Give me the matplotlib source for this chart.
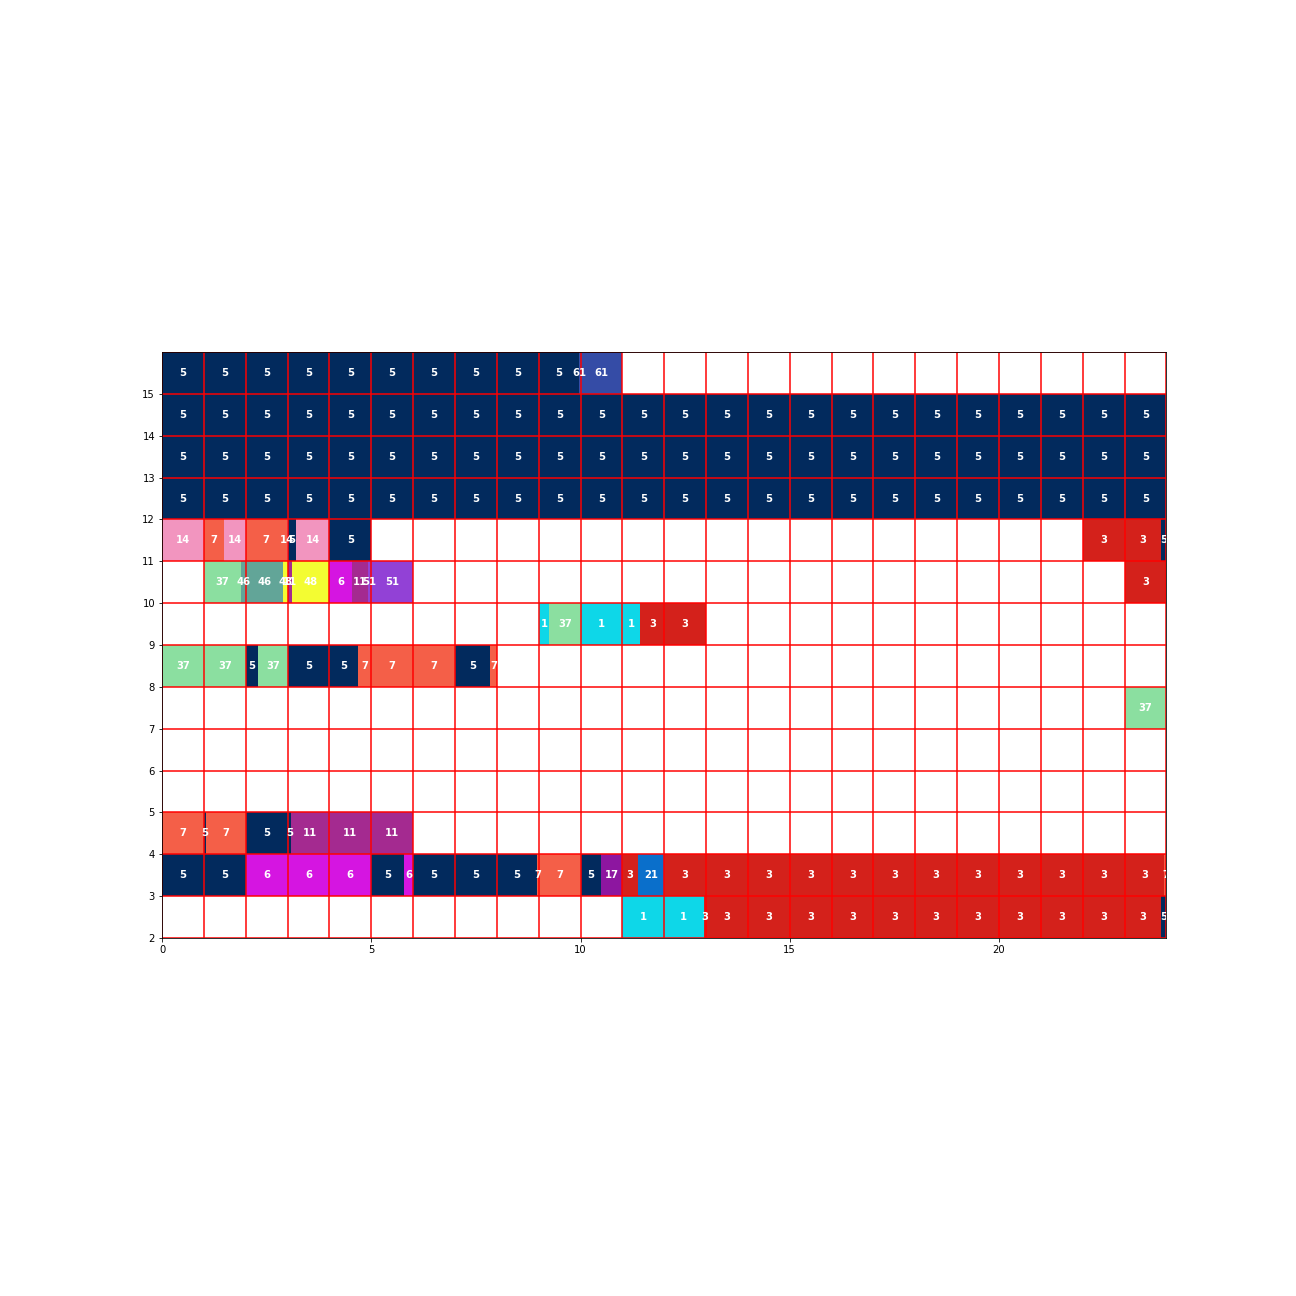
import math

import matplotlib
matplotlib.use('Agg')
import matplotlib.pyplot as plt

# colour of each code
colours = {
    1: '#0ED7E8', 3: '#D4211B', 5: '#022A5D', 6: '#D515E1', 7: '#F45F48',
    11: '#A42A90', 14: '#F295BF', 17: '#8D16A0', 21: '#0A6FCB',
    37: '#8BDFA0', 46: '#62A598', 48: '#F3FC32', 51: '#9241D6', 61: '#354CA6',
}

# runs per row: (start, end, code)
row_15 = [(0, 9.97, 5), (9.97, 11, 61)]
row_14 = [(0, 24, 5)]
row_13 = [(0, 24, 5)]
row_12 = [(0, 24, 5)]
row_11 = [(0, 1, 14), (1, 1.48, 7), (1.48, 2, 14), (2, 2.98, 7), (2.98, 3, 14),
          (3, 3.2, 5), (3.2, 4, 14), (4, 5, 5), (22, 23.88, 3), (23.88, 24, 5)]
row_10 = [(1, 1.89, 37), (1.89, 2.89, 46), (2.89, 3, 48), (3, 3.11, 11),
          (3.11, 4, 48), (4, 4.54, 6), (4.54, 4.92, 11), (4.92, 6, 51), (23, 24, 3)]
row_9 = [(9, 9.25, 1), (9.25, 10, 37), (10, 11.43, 1), (11.43, 13, 3)]
row_8 = [(0, 2, 37), (2, 2.29, 5), (2.29, 3, 37), (3, 4.69, 5), (4.69, 7, 7),
         (7, 7.84, 5), (7.84, 8, 7)]
row_7 = [(23, 24, 37)]
row_4 = [(0, 1, 7), (1, 1.05, 5), (1.05, 2, 7), (2, 3.08, 5), (3.08, 6, 11)]
row_3 = [(0, 2, 5), (2, 5, 6), (5, 5.79, 5), (5.79, 6, 6), (6, 8.97, 5),
         (8.97, 10, 7), (10, 10.49, 5), (10.49, 11, 17), (11, 11.37, 3),
         (11.37, 12, 21), (12, 23.95, 3), (23.95, 24, 7)]
row_2 = [(11, 12.94, 1), (12.94, 23.86, 3), (23.86, 24, 5)]

rows = {15: row_15, 14: row_14, 13: row_13, 12: row_12, 11: row_11,
        10: row_10, 9: row_9, 8: row_8, 7: row_7, 4: row_4, 3: row_3, 2: row_2}


def split_cells(start, end):
    """cut a run at every whole number"""
    pieces = []
    a = start
    while a < end - 1e-9:
        b = min(math.floor(a + 1e-9) + 1, end)
        pieces.append((a, b))
        a = b
    return pieces


fig = plt.figure(figsize=(18, 18), dpi=72)
ax = fig.add_axes([0.125, 0.2762, 0.775, 0.4522])

for y, runs in rows.items():
    for start, end, code in runs:
        for a, b in split_cells(start, end):
            ax.barh(y + 0.5, b - a, left=a, height=1, color=colours[code],
                    linewidth=0, zorder=1)
            ax.text((a + b) / 2, y + 0.5, str(code), ha='center', va='center',
                    color='white', fontweight='bold', fontsize=10,
                    clip_on=True, zorder=3)

# red cell grid
ax.vlines(range(0, 25), 2, 16, colors='red', linewidth=1.5, zorder=2)
ax.hlines(range(2, 17), 0, 24, colors='red', linewidth=1.5, zorder=2)

ax.set_xlim(0, 24)
ax.set_ylim(2, 16)
ax.set_xticks(range(0, 21, 5))
ax.set_yticks(range(2, 16))
for s in ax.spines.values():
    s.set_zorder(4)

fig.savefig('out.png', dpi=72)
